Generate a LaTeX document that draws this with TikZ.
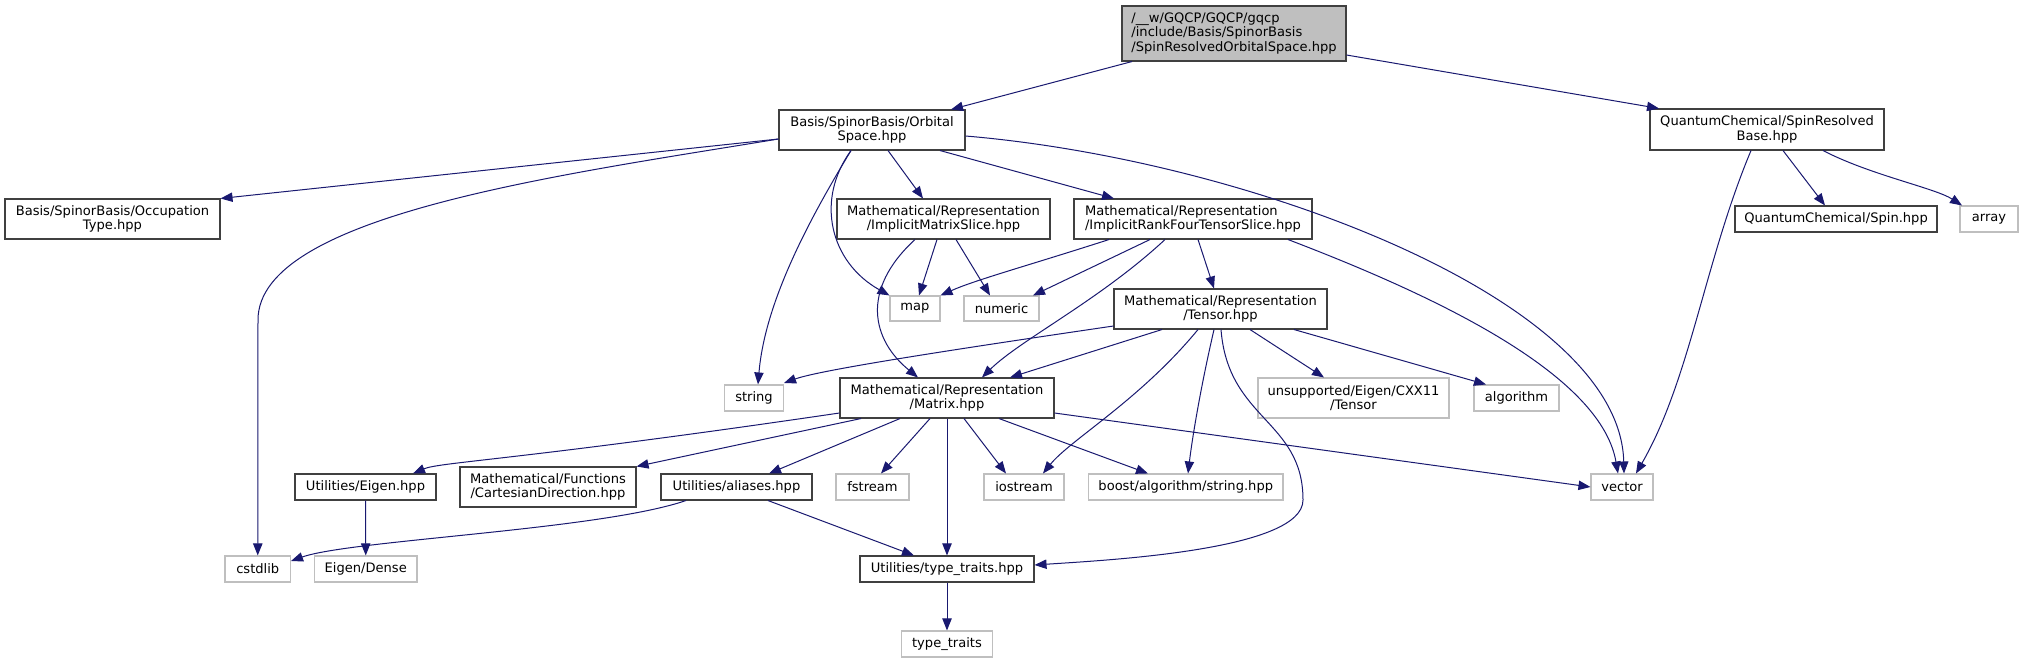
\documentclass[tikz,border=0pt]{standalone}
\usepackage{fontspec}
\setmainfont{DejaVu Sans}
\usetikzlibrary{arrows.meta}
\definecolor{edgec}{HTML}{191970}
\definecolor{sysc}{HTML}{BFBFBF}
\definecolor{incc}{HTML}{404040}
\begin{document}
\begin{tikzpicture}[x=0.75pt,y=-0.75pt,
 bx/.style n args={4}{at={({(#1+#3)/2},{(#2+#4)/2})}, minimum width={(#3-#1)*0.75pt}, minimum height={(#4-#2)*0.75pt}},
 base/.style={inner sep=0pt, align=center, font=\fontsize{9.8}{10.8}\selectfont, fill=white, line width=0.8pt},
 inc/.style={base, draw=incc},
 sys/.style={base, draw=sysc},
 rootn/.style={base, draw=incc, fill=sysc, align=left},
 dep/.style={draw=edgec, line width=0.75pt, -{Triangle[length=9pt,width=7pt]}},
]
\fill[white] (0,0) rectangle (2023,663);
\useasboundingbox (0,0) rectangle (2023,663);

% nodes
\node[rootn, bx={1122}{6}{1346}{61}] (root) {/\_\_w/GQCP/GQCP/gqcp\\/include/Basis/SpinorBasis\\/SpinResolvedOrbitalSpace.hpp};
\node[inc, bx={779}{110}{965}{150}] (orb) {Basis/SpinorBasis/Orbital\\Space.hpp};
\node[inc, bx={1650}{109}{1884}{150}] (srb) {QuantumChemical/SpinResolved\\Base.hpp};
\node[inc, bx={5}{199}{220}{239}] (occ) {Basis/SpinorBasis/Occupation\\Type.hpp};
\node[inc, bx={837}{199}{1050}{239}] (ims) {Mathematical/Representation\\/ImplicitMatrixSlice.hpp};
\node[inc, bx={1074}{199}{1312}{239}, align=left] (irf) {Mathematical/Representation\\/ImplicitRankFourTensorSlice.hpp};
\node[inc, bx={1735}{206}{1937}{232}] (spin) {QuantumChemical/Spin.hpp};
\node[sys, bx={1960}{206}{2018}{232}] (array) {array};
\node[sys, bx={890}{296}{940}{321}] (map) {map};
\node[sys, bx={964}{296}{1039}{321}] (numeric) {numeric};
\node[inc, bx={1114}{289}{1327}{329}] (tensor) {Mathematical/Representation\\/Tensor.hpp};
\node[sys, bx={724.5}{385}{783.5}{411}] (string) {string};
\node[inc, bx={840}{378}{1054}{418}] (matrix) {Mathematical/Representation\\/Matrix.hpp};
\node[sys, bx={1258}{378}{1449}{418}] (unsup) {unsupported/Eigen/CXX11\\/Tensor};
\node[sys, bx={1474}{385}{1559}{411}] (algorithm) {algorithm};
\node[inc, bx={295}{474}{436}{500}] (ueigen) {Utilities/Eigen.hpp};
\node[inc, bx={460}{467}{636}{507}] (cart) {Mathematical/Functions\\/CartesianDirection.hpp};
\node[inc, bx={661}{474}{812}{500}] (alias) {Utilities/aliases.hpp};
\node[sys, bx={836}{474}{909}{500}] (fstream) {fstream};
\node[sys, bx={984}{474}{1064}{500}] (iostream) {iostream};
\node[sys, bx={1088.5}{474}{1283}{500}] (boost) {boost/algorithm/string.hpp};
\node[sys, bx={1591}{474}{1653}{500}] (vector) {vector};
\node[sys, bx={225}{556}{290.5}{582}] (cstdlib) {cstdlib};
\node[sys, bx={314.5}{556}{417}{582}] (dense) {Eigen/Dense};
\node[inc, bx={860}{556}{1034}{582}] (ttp) {Utilities/type\_traits.hpp};
\node[sys, bx={901.5}{631}{992.5}{657}] (tt) {type\_traits};

% edges
\draw[dep] (root.south -| 1132,0) -- (orb.north -| 951,0);
\draw[dep] (root.east |- 0,55) -- (srb.north -| 1659,0);
\draw[dep] (orb.west |- 0,139) -- (occ.north east);
\draw[dep] (orb.west |- 0,139) .. controls (560,175) and (258,215) .. (258,320) -- (cstdlib.north);
\draw[dep] (orb.south -| 851,0) .. controls (812,215) and (765,300) .. (string.north -| 758,0);
\draw[dep] (orb.south -| 851,0) .. controls (815,200) and (830,262) .. (map.north west);
\draw[dep] (orb.south -| 888,0) -- (ims.north -| 923,0);
\draw[dep] (orb.south -| 940,0) -- (irf.north -| 1114,0);
\draw[dep] (orb.east |- 0,136) .. controls (1250,160) and (1620,300) .. (vector.north -| 1624,0);
\draw[dep] (srb.south -| 1783,0) -- (spin.north -| 1825,0);
\draw[dep] (srb.south -| 1823,0) .. controls (1870,175) and (1935,188) .. (array.north -| 1962,0);
\draw[dep] (srb.south -| 1751,0) .. controls (1705,260) and (1690,380) .. (vector.north -| 1636,0);
\draw[dep] (ims.south -| 937,0) -- (map.north -| 919,0);
\draw[dep] (ims.south -| 956,0) -- (numeric.north -| 990,0);
\draw[dep] (ims.south -| 915,0) .. controls (860,290) and (872,340) .. (matrix.north -| 918,0);
\draw[dep] (irf.south -| 1109,0) .. controls (1030,265) and (975,280) .. (map.north east);
\draw[dep] (irf.south -| 1150,0) -- (numeric.north -| 1033,0);
\draw[dep] (irf.south -| 1165,0) .. controls (1100,300) and (1020,340) .. (matrix.north -| 982,0);
\draw[dep] (irf.south -| 1198,0) -- (tensor.north -| 1214,0);
\draw[dep] (irf.south -| 1288,0) .. controls (1420,290) and (1600,370) .. (vector.north -| 1618,0);
\draw[dep] (tensor.west |- 0,326) .. controls (950,350) and (820,370) .. (string.east |- 0,383);
\draw[dep] (tensor.south -| 1162,0) -- (matrix.north -| 1010,0);
\draw[dep] (tensor.south -| 1198,0) .. controls (1140,400) and (1070,440) .. (iostream.north -| 1043,0);
\draw[dep] (tensor.south -| 1214,0) .. controls (1200,390) and (1192,440) .. (boost.north -| 1188,0);
\draw[dep] (tensor.south -| 1221,0) .. controls (1228,420) and (1303,420) .. (1303,500) .. controls (1303,550) and (1110,560) .. (ttp.east |- 0,565);
\draw[dep] (tensor.south -| 1250,0) -- (unsup.north -| 1324,0);
\draw[dep] (tensor.south -| 1294,0) -- (algorithm.north -| 1486,0);
\draw[dep] (matrix.west |- 0,413) .. controls (520,460) and (440,462) .. (ueigen.north -| 413,0);
\draw[dep] (matrix.south -| 861,0) -- (cart.north east);
\draw[dep] (matrix.south -| 900,0) -- (alias.north -| 769,0);
\draw[dep] (matrix.south -| 930,0) -- (fstream.north -| 881,0);
\draw[dep] (matrix.south -| 947,0) -- (ttp.north -| 947,0);
\draw[dep] (matrix.south -| 964,0) -- (iostream.north -| 1006,0);
\draw[dep] (matrix.south -| 999,0) -- (boost.north -| 1148,0);
\draw[dep] (matrix.east |- 0,413) -- (vector.west |- 0,487);
\draw[dep] (ueigen.south) -- (dense.north);
\draw[dep] (alias.south -| 686,0) .. controls (600,530) and (350,540) .. (cstdlib.east |- 0,561);
\draw[dep] (alias.south -| 768,0) -- (ttp.north -| 914,0);
\draw[dep] (ttp.south) -- (tt.north);
\end{tikzpicture}
\end{document}
